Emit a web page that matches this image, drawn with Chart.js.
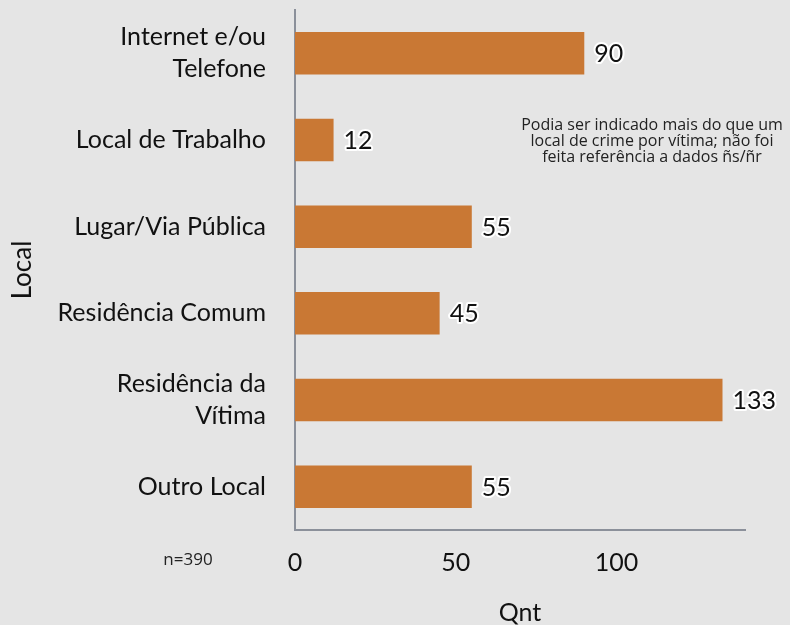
<!DOCTYPE html>
<html>
<head>
<meta charset="utf-8">
<script src="https://cdn.jsdelivr.net/npm/chart.js@4/dist/chart.umd.min.js"></script>
<style>
  html, body { margin: 0; padding: 0; background: #e5e5e5; }
  #wrap { width: 790px; height: 625px; }
</style>
</head>
<body>
<div id="wrap"><canvas id="local-chart" width="790" height="625"></canvas></div>
<script>
const locais = [["Internet e/ou", "Telefone"], "Local de Trabalho", "Lugar/Via Pública", "Residência Comum", ["Residência da", "Vítima"], "Outro Local"];
const quantidades = [90, 12, 55, 45, 133, 55];
const xTicks = [0, 50, 100];
const nota = ["Podia ser indicado mais do que um", "local de crime por vítima; não foi", "feita referência a dados ñs/ñr"];
const amostra = "n=390";

// value labels at the end of each bar, white halo
const valueLabels = {
    id: 'valueLabels',
    afterDatasetsDraw(chart) {
        const ctx = chart.ctx;
        const meta = chart.getDatasetMeta(0);
        ctx.save();
        ctx.font = '25px Lato';
        ctx.textBaseline = 'middle';
        ctx.textAlign = 'left';
        ctx.lineJoin = 'round';
        meta.data.forEach((bar, i) => {
            const txt = String(quantidades[i]);
            ctx.lineWidth = 4;
            ctx.strokeStyle = '#ffffff';
            ctx.strokeText(txt, bar.x + 10, bar.y + 1);
            ctx.fillStyle = '#111111';
            ctx.fillText(txt, bar.x + 10, bar.y + 1);
        });
        ctx.restore();
    }
};

// note and sample size
const extraText = {
    id: 'extraText',
    afterDraw(chart) {
        const ctx = chart.ctx;
        ctx.save();
        ctx.fillStyle = '#222222';
        ctx.textAlign = 'center';
        ctx.textBaseline = 'middle';
        ctx.font = '16px "Open Sans"';
        nota.forEach((l, i) => ctx.fillText(l, 652, 125 + i * 16));
        ctx.font = '17px "Open Sans"';
        ctx.fillText(amostra, 188, 560);
        ctx.restore();
    }
};

const localCanvas = document.querySelector('#local-chart').getContext('2d');

let localChart = new Chart(localCanvas, {
    type: 'bar',
    data: {
        labels: locais,
        datasets: [
            {
                data: quantidades,
                backgroundColor: '#c97834',
                barPercentage: 0.49,
                categoryPercentage: 1
            }
        ]
    },
    options: {
        indexAxis: 'y',
        responsive: false,
        animation: { duration: 0 },
        layout: { padding: { top: 10, right: 45, left: 0, bottom: 0 } },
        plugins: {
            legend: { display: false },
            title: { display: false },
            tooltip: { enabled: false }
        },
        scales: {
            x: {
                min: 0,
                max: 140,
                afterBuildTicks(axis) {
                    axis.ticks = xTicks.map(v => ({ value: v }));
                },
                afterFit(axis) {
                    axis.height = 95;
                    axis.paddingLeft = 0;
                    axis.paddingRight = 0;
                },
                grid: { display: false, drawTicks: false },
                border: { display: true, color: '#8b909a', width: 2 },
                ticks: { color: '#111111', font: { family: 'Lato', size: 25, lineHeight: 1.2 }, padding: 18 },
                title: { display: true, text: 'Qnt', color: '#111111', font: { family: 'Lato', size: 25, lineHeight: 1 }, padding: { top: 0, bottom: 0 } }
            },
            y: {
                afterFit(axis) {
                    axis.width = 295;
                    axis.paddingTop = 0;
                    axis.paddingBottom = 0;
                },
                grid: { display: false, drawTicks: false },
                border: { display: true, color: '#8b909a', width: 2 },
                ticks: { color: '#111111', font: { family: 'Lato', size: 25, lineHeight: 1.28 }, padding: 29 },
                title: { display: true, text: 'Local', color: '#111111', font: { family: 'Lato', size: 26, lineHeight: 1.2 }, padding: { top: 7, bottom: 0 } }
            }
        }
    },
    plugins: [valueLabels, extraText]
});
</script>
</body>
</html>
